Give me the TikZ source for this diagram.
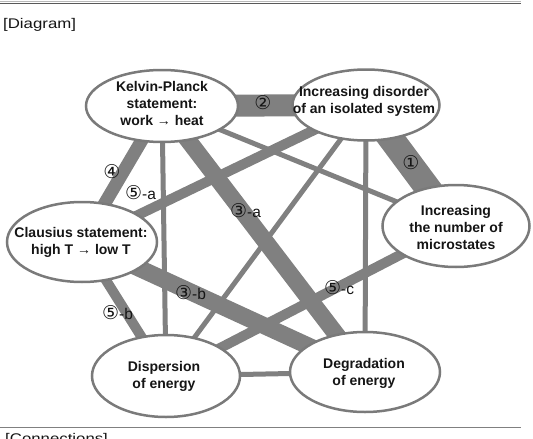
\documentclass[tikz,border=0pt]{standalone}
\usepackage{fontspec}
\setmainfont{Liberation Sans}
\newfontfamily\circfont{DejaVu Sans}
\newfontfamily\headfont[FakeStretch=1.2]{Liberation Sans}
\usetikzlibrary{shapes.geometric,backgrounds}
\definecolor{linkgray}{HTML}{808080}
\definecolor{ringgray}{HTML}{7A7A7A}
\definecolor{textdark}{HTML}{151515}
% circled digit used in the connection labels
\newcommand{\cnum}[1]{{\circfont\fontsize{19}{19}\selectfont\raisebox{-0.6pt}{#1}}}

\begin{document}
\begin{tikzpicture}[x=1pt,y=-1pt,
  concept/.style={ellipse, draw=ringgray, line width=2.5pt, fill=white, inner sep=0pt},
  ctext/.style={font=\fontsize{14}{17}\selectfont\bfseries, align=center, text=textdark, inner sep=0pt},
  link/.style={draw=linkgray, line cap=butt},
  lbl/.style={font=\fontsize{15.5}{15.5}\selectfont, text=textdark, inner sep=0pt},
  head/.style={font=\headfont\fontsize{14}{14}\selectfont, text=textdark, inner sep=0pt}]

\useasboundingbox (0,0) rectangle (533,439);

% page rules and headings
\draw[gray!55, line width=1.5pt] (0,1.5) -- (521,1.5);
\draw[black!65, line width=1.5pt] (0,3.5) -- (521,3.5);
\draw[gray, line width=1pt] (0,427) -- (521,427);
\node[head, anchor=west] (hd) at (3,25) {[Diagram]};
\node[head, anchor=north west] (hc) at (5,433) {[Connections]};

% concept ellipses
\node[concept, minimum width=152pt, minimum height=72pt] (kp)   at (162,106) {};
\node[concept, minimum width=147pt, minimum height=71pt] (dis)  at (366,105) {};
\node[concept, minimum width=147pt, minimum height=82pt] (mic)  at (456,226) {};
\node[concept, minimum width=150pt, minimum height=80pt] (cla)  at (82,242) {};
\node[concept, minimum width=148pt, minimum height=82pt] (disp) at (166,376) {};
\node[concept, minimum width=150pt, minimum height=80pt] (deg)  at (365,372) {};

\node[ctext] (kpt)   at (162,103) {Kelvin-Planck\\statement:\\work → heat};
\node[ctext] (dist)  at (364,101) {Increasing disorder\\of an isolated system};
\node[ctext] (mict)  at (456,227) {Increasing\\the number of\\microstates};
\node[ctext] (clat)  at (81,242)  {Clausius statement:\\high T → low T};
\node[ctext] (dispt) at (164,376) {Dispersion\\of energy};
\node[ctext] (degt)  at (364,373) {Degradation\\of energy};

% connections, behind the ellipses
\begin{scope}[on background layer]
  \draw[link, line width=26pt] (dis.center) -- (mic.center);
  \draw[link, line width=22pt] (kp.center) -- (dis.center);
  \draw[link, line width=17pt] (kp.center) -- (deg.center);
  \draw[link, line width=17pt] (cla.center) -- (deg.center);
  \draw[link, line width=13pt] (kp.center) -- (cla.center);
  \draw[link, line width=10pt] (dis.center) -- (cla.center);
  \draw[link, line width=10pt] (cla.center) -- (disp.center);
  \draw[link, line width=10pt] (mic.center) -- (disp.center);
  \draw[link, line width=5pt] (kp.center) -- (disp.center);
  \draw[link, line width=5pt] (kp.center) -- (mic.center);
  \draw[link, line width=5pt] (dis.center) -- (disp.center);
  \draw[link, line width=5pt] (dis.center) -- (deg.center);
  \draw[link, line width=5pt] (disp.center) -- (deg.center);
\end{scope}

% connection labels
\node[lbl] (l1) at (411,163) {\cnum{①}};
\node[lbl] (l2) at (263,103) {\cnum{②}};
\node[lbl] (l4) at (112,172) {\cnum{④}};
\node[lbl, anchor=west] (l5a) at (125,193) {\cnum{⑤}-a};
\node[lbl, anchor=west] (l3a) at (230,211) {\cnum{③}-a};
\node[lbl, anchor=west] (l3b) at (175,293) {\cnum{③}-b};
\node[lbl, anchor=west] (l5b) at (102,313) {\cnum{⑤}-b};
\node[lbl, anchor=west] (l5c) at (324,288) {\cnum{⑤}-c};
\end{tikzpicture}
\end{document}
